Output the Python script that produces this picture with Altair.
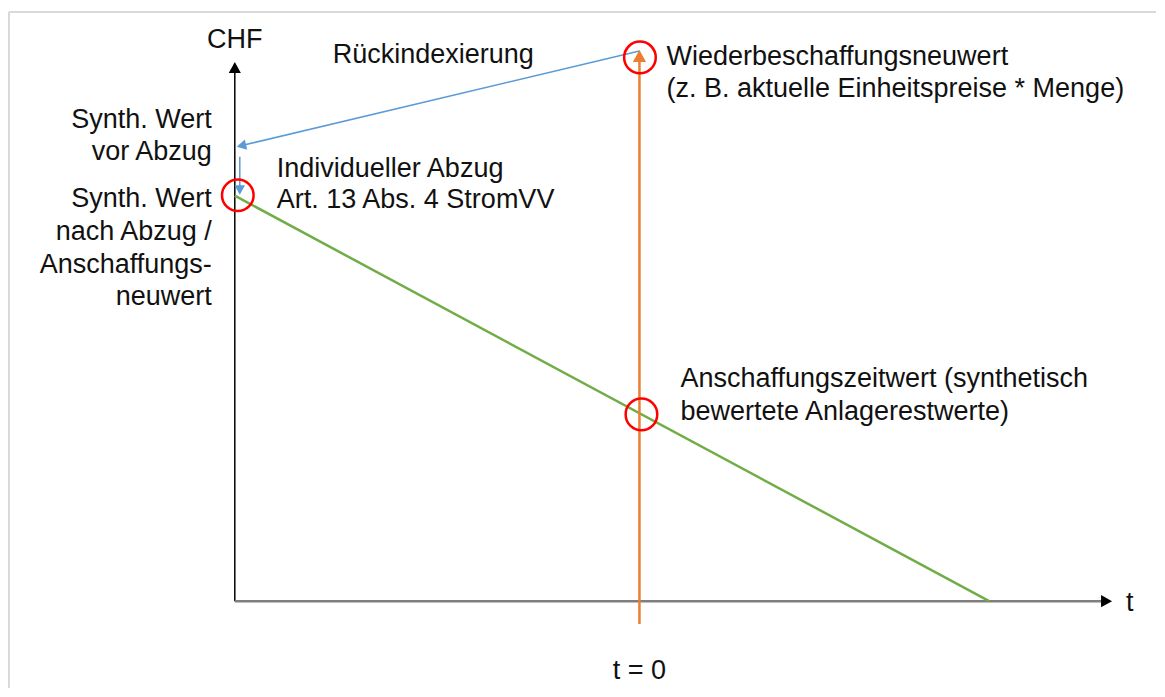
import altair as alt
import pandas as pd

# Diagram coordinate system: x = time axis (0 = CHF axis, 405 = "t = 0"), y = CHF value
X_DOMAIN = [-227, 922]
Y_DOMAIN = [-87, 594]

# ---- line segments -------------------------------------------------------
seg_names = ["frame_top", "frame_left", "y_axis", "x_axis", "green_depr",
             "orange_t0", "blue_reindex", "blue_deduct"]
seg_x = [-226, -226, 0, 0, 0, 405, 405, 5]
seg_y = [590, 590, 0, 0, 406, -23, 551, 445]
seg_x2 = [922, -226, 0, 868, 755, 405, 10, 5]
seg_y2 = [590, -87, 532, 0, 0, 542, 457, 414]
seg_color = ["#d9d9d9", "#d9d9d9", "#000000", "#7f7f7f", "#70ad47",
             "#ed7d31", "#5b9bd5", "#5b9bd5"]
seg_width = [2, 2, 1.5, 2.5, 2.5, 2.5, 1.5, 1.5]

# ---- arrow heads ---------------------------------------------------------
head_x = [0, 878, 405, 2, 5]
head_y = [540, 0, 552, 455, 407]
head_angle = [0, 90, 0, 256.5, 180]
head_color = ["#000000", "#000000", "#ed7d31", "#5b9bd5", "#5b9bd5"]
head_size = [484, 484, 576, 361, 361]

# ---- red circles (highlighted values) ------------------------------------
circ_x = [405.5, 3, 407]
circ_y = [544.5, 406.5, 187]

# ---- texts -----------------------------------------------------------------
left_text = ["Rückindexierung", "Individueller Abzug", "Art. 13 Abs. 4 StromVV",
             "Wiederbeschaffungsneuwert", "(z. B. aktuelle Einheitspreise * Menge)",
             "Anschaffungszeitwert (synthetisch", "bewertete Anlagerestwerte)", "t"]
left_x = [98, 42, 42, 432, 432, 446, 446, 892]
left_y = [539, 425, 394, 537, 505, 214, 181, -10]

right_text = ["Synth. Wert", "vor Abzug", "Synth. Wert", "nach Abzug /",
              "Anschaffungs-", "neuwert"]
right_x = [-23, -23, -23, -23, -23, -23]
right_y = [474, 442, 395, 362, 329, 297]

center_text = ["CHF", "t = 0"]
center_x = [0, 405]
center_y = [554, -78]

FONT = "Liberation Sans"
FS = 27

xs = alt.Scale(domain=X_DOMAIN, nice=False, zero=False)
ys = alt.Scale(domain=Y_DOMAIN, nice=False, zero=False)

seg_df = pd.DataFrame({"name": seg_names, "x": seg_x, "y": seg_y, "x2": seg_x2,
                       "y2": seg_y2, "color": seg_color, "w": seg_width})
head_df = pd.DataFrame({"x": head_x, "y": head_y, "angle": head_angle,
                        "color": head_color, "size": head_size})
circ_df = pd.DataFrame({"x": circ_x, "y": circ_y})
left_df = pd.DataFrame({"t": left_text, "x": left_x, "y": left_y})
right_df = pd.DataFrame({"t": right_text, "x": right_x, "y": right_y})
center_df = pd.DataFrame({"t": center_text, "x": center_x, "y": center_y})

segs = alt.Chart(seg_df).mark_rule(strokeCap="butt").encode(
    x=alt.X("x:Q", scale=xs, axis=None),
    y=alt.Y("y:Q", scale=ys, axis=None),
    x2="x2:Q", y2="y2:Q",
    color=alt.Color("color:N", scale=None),
    strokeWidth=alt.StrokeWidth("w:Q", scale=None),
)

heads = alt.Chart(head_df).mark_point(
    shape="M0,0L0.55,1L-0.55,1Z", filled=True, opacity=1, strokeWidth=0
).encode(
    x=alt.X("x:Q", scale=xs, axis=None),
    y=alt.Y("y:Q", scale=ys, axis=None),
    angle=alt.Angle("angle:Q", scale=None),
    color=alt.Color("color:N", scale=None),
    size=alt.Size("size:Q", scale=None),
)

circles = alt.Chart(circ_df).mark_point(
    shape="circle", filled=False, color="#ff0000", strokeWidth=2.5, size=1000, opacity=1
).encode(
    x=alt.X("x:Q", scale=xs, axis=None),
    y=alt.Y("y:Q", scale=ys, axis=None),
)


def texts(df, align):
    return alt.Chart(df).mark_text(
        align=align, baseline="alphabetic", font=FONT, fontSize=FS, color="#111111"
    ).encode(
        x=alt.X("x:Q", scale=xs, axis=None),
        y=alt.Y("y:Q", scale=ys, axis=None),
        text="t:N",
    )


chart = alt.layer(
    segs, circles, heads,
    texts(left_df, "left"), texts(right_df, "right"), texts(center_df, "center"),
).properties(
    width=1149, height=681, padding=0,
    autosize=alt.AutoSizeParams(type="fit", contains="padding"),
    background="#ffffff",
).configure_view(stroke=None)

chart.save("out.html", embed_options={"renderer": "svg", "actions": False})
